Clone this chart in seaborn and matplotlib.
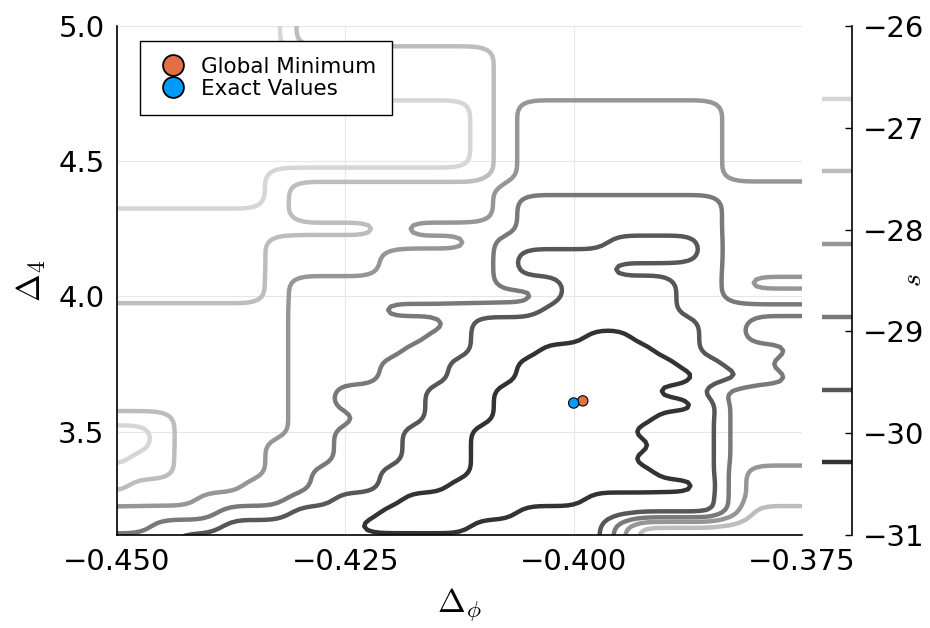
import numpy as np
import pandas as pd
import matplotlib
matplotlib.use("Agg")
import matplotlib.pyplot as plt
from matplotlib.lines import Line2D
import seaborn as sns

# ---------------- data ----------------
delta_phi_grid = [-0.45, -0.4475, -0.445, -0.4425, -0.44, -0.4375, -0.435, -0.4325,
                  -0.43, -0.4275, -0.425, -0.4225, -0.42, -0.4175, -0.415, -0.4125,
                  -0.41, -0.4075, -0.405, -0.4025, -0.4, -0.3975, -0.395, -0.3925,
                  -0.39, -0.3875, -0.385, -0.3825, -0.38, -0.3775, -0.375]
delta4_grid = [5.00, 4.95, 4.90, 4.85, 4.80, 4.75, 4.70, 4.65, 4.60, 4.55, 4.50, 4.45,
               4.40, 4.35, 4.30, 4.25, 4.20, 4.15, 4.10, 4.05, 4.00, 3.95, 3.90, 3.85,
               3.80, 3.75, 3.70, 3.65, 3.60, 3.55, 3.50, 3.45, 3.40, 3.35, 3.30, 3.25,
               3.20, 3.15, 3.10]
# band of s at each grid node (0 = deepest, 6 = highest), rows top (5.00) to bottom (3.10)
s_band_rows = [
    "66666666 44444444444444444444444",
    "66666666 44444444444444444444444",
    "66666666 555555555 44444444444444",
    "66666666 555555555 44444444444444",
    "66666666 555555555 44444444444444",
    "66666666 555555555 44444444444444",
    "6666666666666666 5 4 333333333 4444",
    "6666666666666666 5 4 333333333 4444",
    "6666666666666666 5 4 333333333 4444",
    "6666666666666666 5 4 333333333 4444",
    "6666666666666666 5 4 333333333 4444",
    "6666666 5555555555 4 333333333 4444",
    "6666666 5 444444444 33333333333333",
    "6666666 5 444444444 3 222222222 3333",
    "55555555 444444444 3 222222222 3333",
    "555555555555 4 33333 222222222 3333",
    "5555555 444444444 3 22222 1111 2 3333",
    "5555555 44444 33333 2 11111111 2 3333",
    "5555555 44444 33333 2 1111 22222 3333",
    "5555555 4 333333333 222 11111 22 3 444",
    "5555555 4 33333333333 2 11111 22 3333",
    "44444444 3333 2222222 111111 222222",
    "44444444 3333333 2 1111111111 22 333",
    "44444444 333333 22 11111 00 111 22 333",
    "44444444 33333 222 111 00000 11 2222 3",
    "44444444 3333 222 111 0000000 11 22 33",
    "44444444 3333 222 111 00000000 11 22 3",
    "44444444 33 2222 111 0000000 11 2 3333",
    "44444444 33 2222 111 000000000 1 3333",
    "555 44444 333 222 111 0000000 111 3333",
    "66 5 44444 33 222 111 0000000 1111 3333",
    "66 5 4444 333 222 111 00000000 111 3333",
    "6 55 4444 333 222 111 0000000 1111 3333",
    "555 4444 33 222 1111 00000000 111 3 444",
    "5 44444 333 222 111 00000000000 1 3 444",
    "4444 3333 22 111 00000000 111111 3 444",
    "33333 222 1111 000000 111111111 3 555",
    "33 222 111111 00000 111111 3 55555555",
    "222 1111111111111111111 3 55555555",
]
s_band_values = [-30.64, -29.93, -29.21, -28.50, -27.79, -27.07, -26.36]
s_levels = [-30.286, -29.571, -28.857, -28.143, -27.429, -26.714]
level_colors = ["#333333", "#575757", "#797979", "#969696", "#bdbdbd", "#d6d6d6"]

point_labels = ["Global Minimum", "Exact Values"]
point_phi = [-0.3990, -0.4000]
point_d4 = [3.614, 3.606]
point_colors = ["#e26f46", "#009af9"]

x_ticks = [-0.450, -0.425, -0.400, -0.375]
x_tick_labels = ["\u22120.450", "\u22120.425", "\u22120.400", "\u22120.375"]
y_ticks = [3.5, 4.0, 4.5, 5.0]
y_tick_labels = ["3.5", "4.0", "4.5", "5.0"]
cb_ticks = [-31, -30, -29, -28, -27, -26]
cb_tick_labels = ["\u221231", "\u221230", "\u221229", "\u221228", "\u221227", "\u221226"]

# ---------------- build the field ----------------
rows = [r.replace(" ", "") for r in s_band_rows]
bands = np.array([[int(c) for c in r] for r in rows])
lookup = np.array(s_band_values)
Z = lookup[bands][::-1]              # y increasing
X = np.array(delta_phi_grid)
Y = np.array(delta4_grid)[::-1]


def refine_grid(x, y, z, factor, passes):
    xf = np.linspace(x[0], x[-1], (len(x) - 1) * factor + 1)
    yf = np.linspace(y[0], y[-1], (len(y) - 1) * factor + 1)
    zx = np.array([np.interp(xf, x, row) for row in z])
    zf = np.array([np.interp(yf, y, col) for col in zx.T]).T
    for _ in range(passes):
        p = np.pad(zf, 1, mode="edge")
        zf = (p[:-2, 1:-1] + 2 * p[1:-1, 1:-1] + p[2:, 1:-1]) / 4
        p = np.pad(zf, 1, mode="edge")
        zf = (p[1:-1, :-2] + 2 * p[1:-1, 1:-1] + p[1:-1, 2:]) / 4
    return xf, yf, zf


Xf, Yf, Zf = refine_grid(X, Y, Z, 4, 6)

# ---------------- style ----------------
sns.set_theme(style="white")
plt.rcParams["font.family"] = ["DejaVu Sans"]
plt.rcParams["mathtext.fontset"] = "cm"
for k in ["text.color", "axes.labelcolor", "xtick.color", "ytick.color", "axes.edgecolor"]:
    plt.rcParams[k] = "black"

W, H = 930, 628
fig = plt.figure(figsize=(W / 100, H / 100), dpi=100)
L, R, T, B = 117, 802, 26, 535
ax = fig.add_axes([L / W, (H - B) / H, (R - L) / W, (B - T) / H])
cax = fig.add_axes([822 / W, (H - B) / H, 30 / W, (B - T) / H])

ax.grid(True, color="#e6e6e6", linewidth=0.8, zorder=0)
ax.set_axisbelow(True)

cs = ax.contour(Xf, Yf, Zf, levels=s_levels, colors=level_colors, linewidths=3.2, zorder=2)
cs.set_joinstyle("round")
cs.set_capstyle("round")

df = pd.DataFrame({"phi": point_phi, "d4": point_d4, "label": point_labels})
sns.scatterplot(data=df, x="phi", y="d4", hue="label",
                palette=dict(zip(point_labels, point_colors)),
                s=55, edgecolor="black", linewidth=0.8, ax=ax, zorder=5, legend=False)

handles = [Line2D([], [], linestyle="none", marker="o", markersize=15,
                  markerfacecolor=c, markeredgecolor="black", markeredgewidth=1.3)
           for c in point_colors]
leg = ax.legend(handles, point_labels, loc="upper left", bbox_to_anchor=(0.034, 0.971),
                borderaxespad=0, fontsize=15.5, frameon=True, fancybox=False,
                edgecolor="black", framealpha=1, handlelength=1.5, handletextpad=0.55,
                labelspacing=0.08, borderpad=0.75)
leg.get_frame().set_linewidth(1.0)
leg.set_zorder(10)

ax.set_xlim(-0.45, -0.375)
ax.set_ylim(3.118, 5.0)
ax.set_xticks(x_ticks)
ax.set_xticklabels(x_tick_labels)
ax.set_yticks(y_ticks)
ax.set_yticklabels(y_tick_labels)
ax.tick_params(axis="both", direction="in", length=5, width=1, labelsize=21, pad=9,
               top=False, right=False)
for side in ["top", "right"]:
    ax.spines[side].set_visible(False)
for side in ["left", "bottom"]:
    ax.spines[side].set_color("black")
    ax.spines[side].set_linewidth(1.2)

ax.set_xlabel(r"$\Delta_\phi$", fontsize=24)
ax.set_ylabel(r"$\Delta_4$", fontsize=24)
ax.xaxis.set_label_coords(0.5, -0.10)
ax.yaxis.set_label_coords(-0.10, 0.5)

# colorbar made of the contour levels
cax.hlines(s_levels, 0, 1, colors=level_colors, linewidth=3.2)
cax.set_xlim(0, 1)
cax.set_ylim(-31, -26)
cax.set_xticks([])
cax.yaxis.tick_right()
cax.set_yticks(cb_ticks)
cax.set_yticklabels(cb_tick_labels)
cax.tick_params(axis="y", direction="in", length=5, width=1, labelsize=21, pad=8,
                left=False, right=True)
for side in ["top", "left", "bottom"]:
    cax.spines[side].set_visible(False)
cax.spines["right"].set_color("black")
cax.spines["right"].set_linewidth(1.2)
cax.set_facecolor("none")
cax.yaxis.set_label_position("right")
cax.set_ylabel(r"$s$", fontsize=20, rotation=90)
cax.yaxis.set_label_coords(2.55, 0.5)

fig.savefig("out.png", dpi=100)
